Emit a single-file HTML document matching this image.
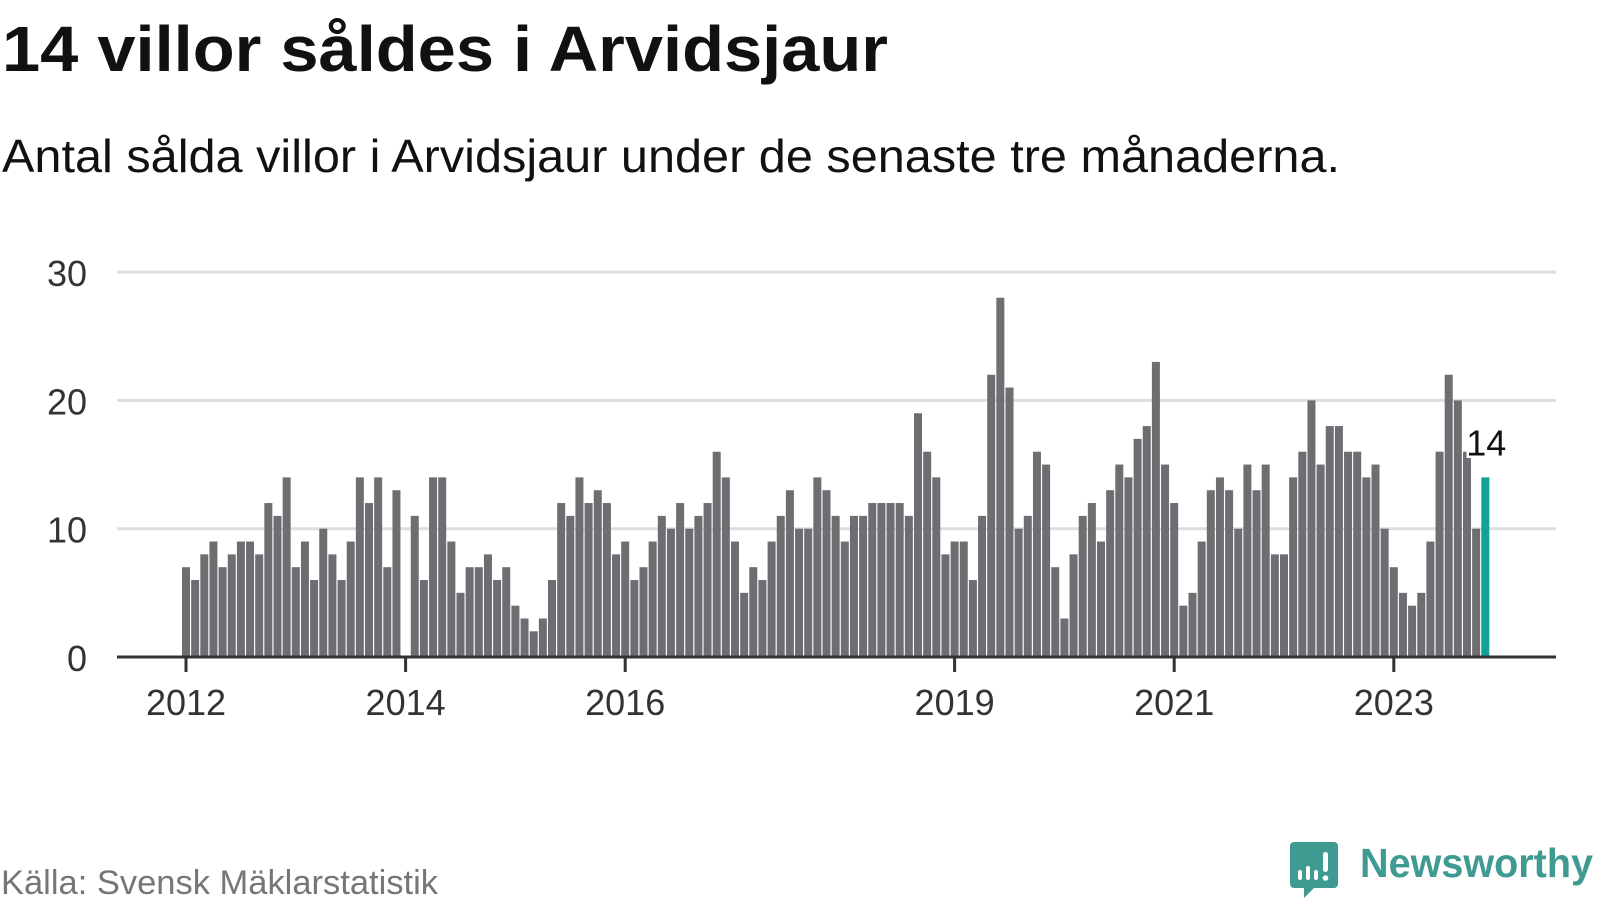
<!DOCTYPE html>
<html><head><meta charset="utf-8"><style>
html,body{margin:0;padding:0;background:#fff;}
svg{display:block;font-family:"Liberation Sans",sans-serif;}
</style></head><body>
<svg width="1600" height="900" viewBox="0 0 1600 900">
<text x="2" y="71" font-size="64" font-weight="bold" fill="#111" textLength="886" lengthAdjust="spacingAndGlyphs">14 villor såldes i Arvidsjaur</text>
<text x="2" y="172" font-size="46" fill="#111" textLength="1338" lengthAdjust="spacingAndGlyphs">Antal sålda villor i Arvidsjaur under de senaste tre månaderna.</text>
<g id="grid"></g>
<g id="bars"></g>
<g id="axis"></g>
<text x="1" y="894" font-size="34" fill="#76757a" textLength="437" lengthAdjust="spacingAndGlyphs">Källa: Svensk Mäklarstatistik</text>
<g>
<path d="M1294 842 h40 a4 4 0 0 1 4 4 v38 a4 4 0 0 1 -4 4 h-20 l-10 10 v-10 h-10 a4 4 0 0 1 -4 -4 v-38 a4 4 0 0 1 4 -4z" fill="#3f9a91"/>
<rect x="1298" y="870" width="4" height="10" rx="2" fill="#fff"/>
<rect x="1306" y="866" width="4" height="14" rx="2" fill="#fff"/>
<rect x="1314" y="870" width="4" height="10" rx="2" fill="#fff"/>
<rect x="1323" y="852" width="5" height="20" rx="2.5" fill="#fff"/>
<circle cx="1325.5" cy="878" r="2.8" fill="#fff"/>
<text x="1360" y="877" font-size="41" font-weight="bold" fill="#3f9a91" textLength="233" lengthAdjust="spacingAndGlyphs">Newsworthy</text>
</g>
</svg>
<script>
const values = [
7,6,8,9,7,8,9,9,8,12,11,14,
7,9,6,10,8,6,9,14,12,14,7,13,
0,11,6,14,14,9,5,7,7,8,6,7,
4,3,2,3,6,12,11,14,12,13,12,8,
9,6,7,9,11,10,12,10,11,12,16,14,
9,5,7,6,9,11,13,10,10,14,13,11,
9,11,11,12,12,12,12,11,19,16,14,8,
9,9,6,11,22,28,21,10,11,16,15,7,
3,8,11,12,9,13,15,14,17,18,23,15,
12,4,5,9,13,14,13,10,15,13,15,8,
8,14,16,20,15,18,18,16,16,14,15,10,
7,5,4,5,9,16,22,20,16,10,14];
const yTicks = [0,10,20,30];
const xTickLabels = ["2012","2014","2016","2019","2021","2023"];
const xTickIndex = [0,24,48,84,108,132];
const highlightLabel = "14";

const NS="http://www.w3.org/2000/svg";
const x0=186, step=9.15, y0=657, pxPerUnit=12.83, left=117, right=1556;
function xs(i){return x0+i*step;}
function ys(v){return y0-v*pxPerUnit;}
function mk(tag,attrs,parent){const e=document.createElementNS(NS,tag);for(const k in attrs)e.setAttribute(k,attrs[k]);parent.appendChild(e);return e;}
const grid=document.getElementById('grid'),bars=document.getElementById('bars'),axis=document.getElementById('axis');
yTicks.forEach(t=>{
  if(t>0){const l=mk('line',{x1:left,x2:right,y1:ys(t),y2:ys(t),stroke:'#dedede','stroke-width':3},grid);
  
  }
  const tx=mk('text',{x:87,y:ys(t)+14,'font-size':36,fill:'#333','text-anchor':'end'},grid);
  
  
  tx.textContent=t;
});
values.forEach((v,i)=>{
  const last=i===values.length-1;
  const r=mk('rect',{x:xs(i)-4,y:ys(v),width:8,height:v*pxPerUnit,fill:last?'#12a197':'#6e6d72'},bars);
  
  
});
const hl=mk('text',{x:xs(values.length-1)+1,y:ys(values[values.length-1])-22,'font-size':36,fill:'#111','text-anchor':'middle',stroke:'#fff','stroke-width':5,'paint-order':'stroke'},bars);


hl.textContent=highlightLabel;
const ax=mk('line',{x1:left,x2:right,y1:y0,y2:y0,stroke:'#333','stroke-width':3},axis);


xTickIndex.forEach((k,j)=>{
  const t=mk('line',{x1:xs(k),x2:xs(k),y1:y0,y2:y0+15,stroke:'#333','stroke-width':3},axis);
  
  
  const tx=mk('text',{x:xs(k),y:715,'font-size':36,fill:'#333','text-anchor':'middle'},axis);
  
  
  tx.textContent=xTickLabels[j];
});
</script>
</body></html>
